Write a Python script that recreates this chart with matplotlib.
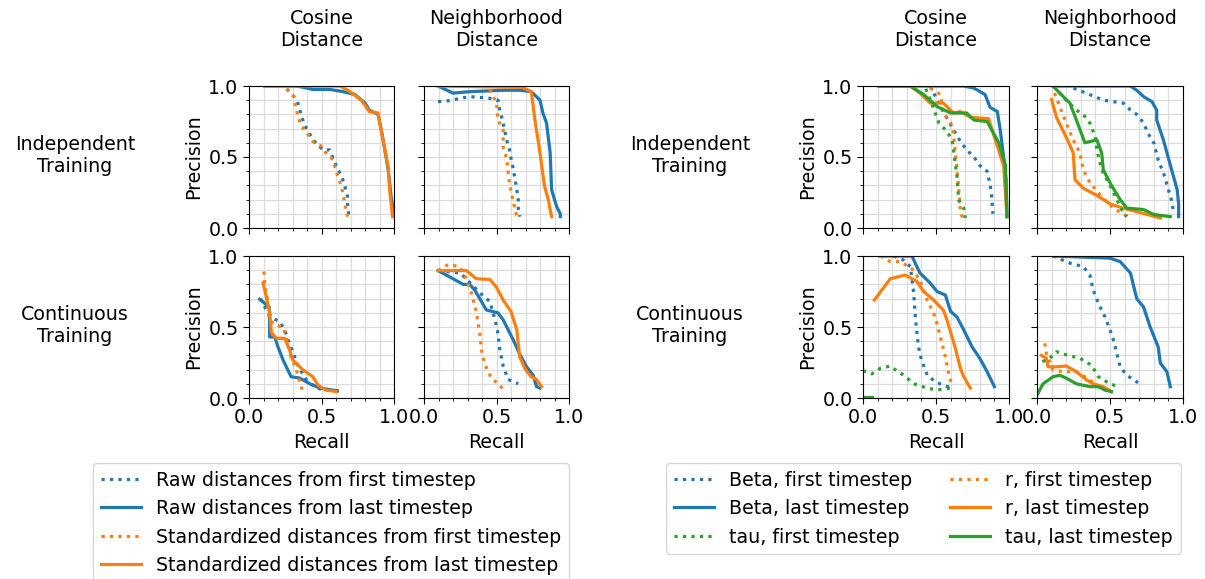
import numpy as np
import matplotlib
matplotlib.use("Agg")
import matplotlib.pyplot as plt
from matplotlib.ticker import MultipleLocator

plt.rcParams['font.family'] = ['DejaVu Sans']
plt.rcParams['font.size'] = 13.7

BLUE = '#1f77b4'
ORANGE = '#ff7f0e'
GREEN = '#2ca02c'

col_titles = ["Cosine\nDistance", "Neighborhood\nDistance"]
row_titles = ["Independent\nTraining", "Continuous\nTraining"]

# ---- left figure: raw vs standardized distances (recall, precision) ----
# independent training, cosine distance
li_cos_raw_first_x = [0.26, 0.31, 0.34, 0.36, 0.38, 0.42, 0.46, 0.51, 0.556, 0.58, 0.61, 0.64, 0.66, 0.68, 0.68, 0.69]
li_cos_raw_first_y = [0.98, 0.925, 0.87, 0.80, 0.73, 0.66, 0.60, 0.55, 0.55, 0.49, 0.42, 0.36, 0.30, 0.22, 0.15, 0.08]
li_cos_raw_last_x = [0.108, 0.33, 0.44, 0.556, 0.65, 0.73, 0.80, 0.83, 0.89, 0.92, 0.96, 0.98, 1.0]
li_cos_raw_last_y = [1.0, 1.0, 0.976, 0.976, 0.96, 0.94, 0.88, 0.83, 0.80, 0.65, 0.41, 0.22, 0.10]
li_cos_std_first_x = [0.26, 0.31, 0.32, 0.34, 0.36, 0.40, 0.44, 0.50, 0.53, 0.58, 0.60, 0.625, 0.65, 0.66, 0.68]
li_cos_std_first_y = [0.98, 0.925, 0.86, 0.78, 0.72, 0.67, 0.61, 0.575, 0.53, 0.48, 0.40, 0.33, 0.24, 0.17, 0.08]
li_cos_std_last_x = [0.108, 0.625, 0.69, 0.775, 0.83, 0.89, 0.92, 0.96, 0.97, 0.98, 0.99]
li_cos_std_last_y = [1.0, 1.0, 0.965, 0.90, 0.82, 0.81, 0.64, 0.43, 0.27, 0.17, 0.08]

# independent training, neighborhood distance
li_nb_raw_first_x = [0.097, 0.18, 0.246, 0.315, 0.385, 0.454, 0.51, 0.523, 0.546, 0.57, 0.59, 0.60, 0.615, 0.64, 0.65, 0.65, 0.66]
li_nb_raw_first_y = [0.89, 0.897, 0.913, 0.925, 0.92, 0.913, 0.90, 0.83, 0.74, 0.62, 0.55, 0.49, 0.42, 0.27, 0.20, 0.14, 0.08]
li_nb_raw_last_x = [0.097, 0.20, 0.315, 0.546, 0.66, 0.74, 0.80, 0.82, 0.845, 0.87, 0.88, 0.90, 0.915, 0.94, 0.94]
li_nb_raw_last_y = [1.0, 0.95, 0.96, 0.97, 0.97, 0.96, 0.90, 0.81, 0.74, 0.53, 0.27, 0.20, 0.15, 0.10, 0.08]
li_nb_std_first_x = [0.454, 0.50, 0.51, 0.546, 0.546, 0.57, 0.58, 0.59, 0.615, 0.64]
li_nb_std_first_y = [0.975, 0.88, 0.76, 0.69, 0.57, 0.49, 0.40, 0.31, 0.19, 0.08]
li_nb_std_last_x = [0.097, 0.68, 0.74, 0.765, 0.80, 0.83, 0.857, 0.87, 0.88]
li_nb_std_last_y = [1.0, 0.99, 0.96, 0.76, 0.53, 0.30, 0.20, 0.13, 0.08]

# continuous training, cosine distance
lc_cos_raw_first_x = [0.078, 0.12, 0.165, 0.21, 0.246, 0.27, 0.315, 0.34, 0.395, 0.46, 0.53, 0.61]
lc_cos_raw_first_y = [0.70, 0.62, 0.56, 0.54, 0.48, 0.41, 0.29, 0.22, 0.13, 0.07, 0.056, 0.05]
lc_cos_raw_last_x = [0.074, 0.108, 0.14, 0.143, 0.177, 0.20, 0.234, 0.257, 0.29, 0.35, 0.42, 0.49, 0.61]
lc_cos_raw_last_y = [0.695, 0.667, 0.64, 0.43, 0.43, 0.36, 0.27, 0.22, 0.15, 0.14, 0.10, 0.07, 0.05]
lc_cos_std_first_x = [0.103, 0.108, 0.126, 0.138, 0.19, 0.234, 0.257, 0.29, 0.326, 0.35, 0.37]
lc_cos_std_first_y = [0.89, 0.81, 0.70, 0.55, 0.51, 0.50, 0.43, 0.29, 0.20, 0.115, 0.045]
lc_cos_std_last_x = [0.097, 0.12, 0.143, 0.154, 0.19, 0.246, 0.28, 0.30, 0.37, 0.44, 0.476, 0.53, 0.60]
lc_cos_std_last_y = [0.81, 0.71, 0.60, 0.46, 0.42, 0.42, 0.34, 0.27, 0.20, 0.15, 0.09, 0.056, 0.045]

# continuous training, neighborhood distance
lc_nb_raw_first_x = [0.097, 0.25, 0.30, 0.385, 0.454, 0.49, 0.51, 0.523, 0.546, 0.58, 0.65]
lc_nb_raw_first_y = [0.897, 0.88, 0.83, 0.74, 0.68, 0.55, 0.455, 0.34, 0.225, 0.13, 0.10]
lc_nb_raw_last_x = [0.097, 0.20, 0.27, 0.315, 0.35, 0.396, 0.43, 0.51, 0.546, 0.615, 0.66, 0.707, 0.753, 0.776, 0.80]
lc_nb_raw_last_y = [0.897, 0.84, 0.80, 0.80, 0.76, 0.68, 0.62, 0.60, 0.55, 0.41, 0.31, 0.22, 0.16, 0.08, 0.07]
lc_nb_std_first_x = [0.097, 0.166, 0.246, 0.28, 0.327, 0.36, 0.385, 0.396, 0.42, 0.465, 0.523, 0.557]
lc_nb_std_first_y = [0.897, 0.94, 0.925, 0.866, 0.74, 0.61, 0.455, 0.34, 0.235, 0.14, 0.09, 0.045]
lc_nb_std_last_x = [0.097, 0.293, 0.36, 0.454, 0.50, 0.546, 0.60, 0.64, 0.66, 0.70, 0.74, 0.776, 0.81]
lc_nb_std_last_y = [0.897, 0.897, 0.84, 0.835, 0.78, 0.69, 0.61, 0.48, 0.29, 0.20, 0.15, 0.13, 0.08]

# ---- right figure: Beta / r / tau ----
# independent training, cosine distance
ri_cos_beta_first_x = [0.46, 0.53, 0.61, 0.667, 0.71, 0.76, 0.80, 0.85, 0.87, 0.88, 0.89]
ri_cos_beta_first_y = [1.0, 0.855, 0.71, 0.61, 0.55, 0.50, 0.44, 0.40, 0.31, 0.24, 0.10]
ri_cos_beta_last_x = [0.107, 0.69, 0.76, 0.836, 0.87, 0.92, 0.94, 0.963, 0.98, 0.986]
ri_cos_beta_last_y = [1.0, 1.0, 0.985, 0.94, 0.85, 0.82, 0.69, 0.50, 0.34, 0.08]
ri_cos_r_first_x = [0.46, 0.53, 0.55, 0.60, 0.62, 0.63, 0.64, 0.65, 0.66, 0.667, 0.685]
ri_cos_r_first_y = [0.985, 0.94, 0.81, 0.74, 0.667, 0.55, 0.455, 0.34, 0.22, 0.12, 0.06]
ri_cos_r_last_x = [0.107, 0.324, 0.39, 0.46, 0.55, 0.62, 0.667, 0.735, 0.86, 0.963, 0.986]
ri_cos_r_last_y = [1.0, 1.0, 0.95, 0.88, 0.88, 0.81, 0.82, 0.78, 0.77, 0.44, 0.08]
ri_cos_tau_first_x = [0.43, 0.47, 0.52, 0.575, 0.61, 0.62, 0.632, 0.644, 0.655, 0.69, 0.70]
ri_cos_tau_first_y = [0.98, 0.88, 0.74, 0.68, 0.62, 0.55, 0.455, 0.36, 0.197, 0.14, 0.07]
ri_cos_tau_last_x = [0.107, 0.324, 0.415, 0.507, 0.60, 0.71, 0.76, 0.85, 0.93, 0.975, 0.986]
ri_cos_tau_last_y = [1.0, 1.0, 0.94, 0.855, 0.81, 0.81, 0.76, 0.75, 0.60, 0.445, 0.08]

# independent training, neighborhood distance
ri_nb_beta_first_x = [0.25, 0.36, 0.454, 0.59, 0.64, 0.683, 0.73, 0.76, 0.80, 0.83, 0.867, 0.90, 0.92, 0.935]
ri_nb_beta_first_y = [0.985, 0.94, 0.90, 0.88, 0.83, 0.80, 0.74, 0.667, 0.60, 0.48, 0.385, 0.27, 0.20, 0.115]
ri_nb_beta_last_x = [0.11, 0.64, 0.683, 0.73, 0.787, 0.82, 0.82, 0.866, 0.91, 0.96, 0.97, 0.97]
ri_nb_beta_last_y = [1.0, 1.0, 0.97, 0.925, 0.89, 0.83, 0.76, 0.62, 0.455, 0.27, 0.17, 0.08]
ri_nb_r_first_x = [0.12, 0.156, 0.20, 0.248, 0.294, 0.317, 0.362, 0.443, 0.523, 0.59, 0.637]
ri_nb_r_first_y = [0.95, 0.855, 0.74, 0.62, 0.53, 0.41, 0.32, 0.22, 0.14, 0.10, 0.066]
ri_nb_r_last_x = [0.10, 0.133, 0.20, 0.248, 0.26, 0.317, 0.41, 0.50, 0.59, 0.683, 0.845]
ri_nb_r_last_y = [0.905, 0.78, 0.64, 0.53, 0.34, 0.28, 0.23, 0.17, 0.14, 0.115, 0.07]
ri_nb_tau_first_x = [0.11, 0.20, 0.27, 0.317, 0.362, 0.40, 0.41, 0.443, 0.50, 0.546, 0.58, 0.615]
ri_nb_tau_first_y = [1.0, 0.90, 0.83, 0.80, 0.74, 0.64, 0.55, 0.41, 0.30, 0.20, 0.13, 0.08]
ri_nb_tau_last_x = [0.11, 0.156, 0.225, 0.27, 0.328, 0.41, 0.443, 0.454, 0.51, 0.57, 0.615, 0.73, 0.80, 0.913]
ri_nb_tau_last_y = [1.0, 0.95, 0.88, 0.76, 0.60, 0.62, 0.53, 0.41, 0.30, 0.20, 0.14, 0.13, 0.095, 0.08]

# continuous training, cosine distance
rc_cos_beta_first_x = [0.21, 0.28, 0.324, 0.347, 0.36, 0.38, 0.40, 0.44, 0.495, 0.55, 0.61]
rc_cos_beta_first_y = [1.0, 0.97, 0.925, 0.74, 0.55, 0.36, 0.27, 0.16, 0.115, 0.09, 0.07]
rc_cos_beta_last_x = [0.12, 0.335, 0.39, 0.46, 0.507, 0.564, 0.60, 0.644, 0.69, 0.747, 0.80, 0.85, 0.90]
rc_cos_beta_last_y = [1.0, 1.0, 0.88, 0.81, 0.75, 0.725, 0.61, 0.57, 0.48, 0.36, 0.28, 0.185, 0.08]
rc_cos_r_first_x = [0.12, 0.187, 0.256, 0.335, 0.39, 0.44, 0.495, 0.53, 0.564, 0.587, 0.61]
rc_cos_r_first_y = [1.0, 0.96, 0.96, 0.91, 0.83, 0.69, 0.57, 0.43, 0.29, 0.17, 0.08]
rc_cos_r_last_x = [0.078, 0.187, 0.29, 0.37, 0.415, 0.484, 0.55, 0.575, 0.63, 0.667, 0.69, 0.735]
rc_cos_r_last_y = [0.69, 0.84, 0.866, 0.82, 0.75, 0.69, 0.62, 0.55, 0.36, 0.21, 0.15, 0.07]
rc_cos_tau_first_x = [0.0, 0.027, 0.06, 0.12, 0.187, 0.22, 0.28, 0.347, 0.44, 0.507, 0.60]
rc_cos_tau_first_y = [0.19, 0.185, 0.17, 0.21, 0.225, 0.20, 0.16, 0.10, 0.07, 0.056, 0.07]
rc_cos_tau_last_x = [0.0, 0.06]
rc_cos_tau_last_y = [0.01, 0.01]

# continuous training, neighborhood distance
rc_nb_beta_first_x = [0.11, 0.225, 0.317, 0.362, 0.385, 0.42, 0.466, 0.50, 0.523, 0.57, 0.615, 0.718]
rc_nb_beta_first_y = [1.0, 0.95, 0.925, 0.866, 0.76, 0.667, 0.57, 0.48, 0.41, 0.22, 0.16, 0.09]
rc_nb_beta_last_x = [0.11, 0.50, 0.57, 0.64, 0.683, 0.73, 0.775, 0.83, 0.845, 0.89, 0.913]
rc_nb_beta_last_y = [1.0, 0.985, 0.96, 0.88, 0.70, 0.64, 0.50, 0.36, 0.245, 0.185, 0.08]
rc_nb_r_first_x = [0.053, 0.064, 0.11, 0.18, 0.27, 0.362, 0.42, 0.49]
rc_nb_r_first_y = [0.385, 0.315, 0.197, 0.185, 0.185, 0.127, 0.08, 0.045]
rc_nb_r_last_x = [0.03, 0.064, 0.076, 0.133, 0.20, 0.27, 0.34, 0.385, 0.454, 0.51]
rc_nb_r_last_y = [0.30, 0.28, 0.22, 0.22, 0.225, 0.185, 0.127, 0.10, 0.08, 0.045]
rc_nb_tau_first_x = [0.037, 0.087, 0.133, 0.213, 0.294, 0.374, 0.42, 0.50, 0.557]
rc_nb_tau_first_y = [0.256, 0.28, 0.326, 0.30, 0.28, 0.23, 0.15, 0.10, 0.08]
rc_nb_tau_last_x = [0.0, 0.041, 0.11, 0.156, 0.20, 0.27, 0.362, 0.42, 0.466, 0.51]
rc_nb_tau_last_y = [0.02, 0.10, 0.15, 0.16, 0.14, 0.10, 0.08, 0.08, 0.056, 0.045]

left_labels = ["Raw distances from first timestep", "Raw distances from last timestep",
               "Standardized distances from first timestep", "Standardized distances from last timestep"]
right_labels = ["Beta, first timestep", "Beta, last timestep", "r, first timestep",
                "r, last timestep", "tau, first timestep", "tau, last timestep"]
# legend of the right figure lists Beta, then tau in column one and r, then tau last in column two
right_legend_order = [0, 1, 4, 2, 3, 5]

left_data = [
    [  # independent
        [(li_cos_raw_first_x, li_cos_raw_first_y), (li_cos_raw_last_x, li_cos_raw_last_y),
         (li_cos_std_first_x, li_cos_std_first_y), (li_cos_std_last_x, li_cos_std_last_y)],
        [(li_nb_raw_first_x, li_nb_raw_first_y), (li_nb_raw_last_x, li_nb_raw_last_y),
         (li_nb_std_first_x, li_nb_std_first_y), (li_nb_std_last_x, li_nb_std_last_y)],
    ],
    [  # continuous
        [(lc_cos_raw_first_x, lc_cos_raw_first_y), (lc_cos_raw_last_x, lc_cos_raw_last_y),
         (lc_cos_std_first_x, lc_cos_std_first_y), (lc_cos_std_last_x, lc_cos_std_last_y)],
        [(lc_nb_raw_first_x, lc_nb_raw_first_y), (lc_nb_raw_last_x, lc_nb_raw_last_y),
         (lc_nb_std_first_x, lc_nb_std_first_y), (lc_nb_std_last_x, lc_nb_std_last_y)],
    ],
]
right_data = [
    [
        [(ri_cos_beta_first_x, ri_cos_beta_first_y), (ri_cos_beta_last_x, ri_cos_beta_last_y),
         (ri_cos_r_first_x, ri_cos_r_first_y), (ri_cos_r_last_x, ri_cos_r_last_y),
         (ri_cos_tau_first_x, ri_cos_tau_first_y), (ri_cos_tau_last_x, ri_cos_tau_last_y)],
        [(ri_nb_beta_first_x, ri_nb_beta_first_y), (ri_nb_beta_last_x, ri_nb_beta_last_y),
         (ri_nb_r_first_x, ri_nb_r_first_y), (ri_nb_r_last_x, ri_nb_r_last_y),
         (ri_nb_tau_first_x, ri_nb_tau_first_y), (ri_nb_tau_last_x, ri_nb_tau_last_y)],
    ],
    [
        [(rc_cos_beta_first_x, rc_cos_beta_first_y), (rc_cos_beta_last_x, rc_cos_beta_last_y),
         (rc_cos_r_first_x, rc_cos_r_first_y), (rc_cos_r_last_x, rc_cos_r_last_y),
         (rc_cos_tau_first_x, rc_cos_tau_first_y), (rc_cos_tau_last_x, rc_cos_tau_last_y)],
        [(rc_nb_beta_first_x, rc_nb_beta_first_y), (rc_nb_beta_last_x, rc_nb_beta_last_y),
         (rc_nb_r_first_x, rc_nb_r_first_y), (rc_nb_r_last_x, rc_nb_r_last_y),
         (rc_nb_tau_first_x, rc_nb_tau_first_y), (rc_nb_tau_last_x, rc_nb_tau_last_y)],
    ],
]

left_styles = [(BLUE, ':'), (BLUE, '-'), (ORANGE, ':'), (ORANGE, '-')]
right_styles = [(BLUE, ':'), (BLUE, '-'), (ORANGE, ':'), (ORANGE, '-'), (GREEN, ':'), (GREEN, '-')]

W, H = 1205, 579
fig = plt.figure(figsize=(W / 100, H / 100), dpi=100)


def px_axes(x0, y0, x1, y1):
    return fig.add_axes([x0 / W, 1 - y1 / H, (x1 - x0) / W, (y1 - y0) / H])


def style_axes(ax, row, col):
    ax.set_xlim(0, 1)
    ax.set_ylim(0, 1)
    ax.xaxis.set_major_locator(MultipleLocator(0.5))
    ax.yaxis.set_major_locator(MultipleLocator(0.5))
    ax.xaxis.set_minor_locator(MultipleLocator(0.1))
    ax.yaxis.set_minor_locator(MultipleLocator(0.1))
    ax.grid(which='both', color='#dcdcdc', linewidth=0.9)
    ax.set_axisbelow(True)
    ax.tick_params(which='major', length=4)
    ax.tick_params(which='minor', length=2.5)
    if row == 0:
        ax.tick_params(labelbottom=False)
    else:
        ax.set_xlabel("Recall")
    if col == 1:
        ax.tick_params(labelleft=False)
    else:
        ax.set_ylabel("Precision")


def draw_group(xcols, data, styles, labels, row_x):
    rows_y = [(86, 228), (256, 398)]
    handles = None
    for r, (y0, y1) in enumerate(rows_y):
        for c, (x0, x1) in enumerate(xcols):
            ax = px_axes(x0, y0, x1, y1)
            lines = []
            for (xs, ys), (color, ls), lab in zip(data[r][c], styles, labels):
                ln, = ax.plot(xs, ys, color=color, linestyle=ls, linewidth=2.3, label=lab)
                lines.append(ln)
            style_axes(ax, r, c)
            if handles is None:
                handles = lines
        fig.text(row_x / W, 1 - ((y0 + y1) / 2 - 2) / H, row_titles[r],
                 ha='center', va='center', multialignment='center')
    for c, (x0, x1) in enumerate(xcols):
        fig.text((x0 + x1) / 2 / W, 1 - 30 / H, col_titles[c],
                 ha='center', va='center', multialignment='center')
    return handles


lh = draw_group([(249, 394), (424, 569)], left_data, left_styles, left_labels, 75)
rh = draw_group([(863, 1009), (1037, 1183)], right_data, right_styles, right_labels, 690)

fig.legend(lh, left_labels, loc='upper left', bbox_to_anchor=(93 / W, 1 - 463 / H),
           bbox_transform=fig.transFigure, borderaxespad=0, handlelength=2.1)
fig.legend([rh[i] for i in right_legend_order], [right_labels[i] for i in right_legend_order],
           loc='upper left', bbox_to_anchor=(666 / W, 1 - 463 / H),
           bbox_transform=fig.transFigure, borderaxespad=0, ncol=2, handlelength=2.1,
           columnspacing=2.0)

fig.savefig("out.png", dpi=100)
